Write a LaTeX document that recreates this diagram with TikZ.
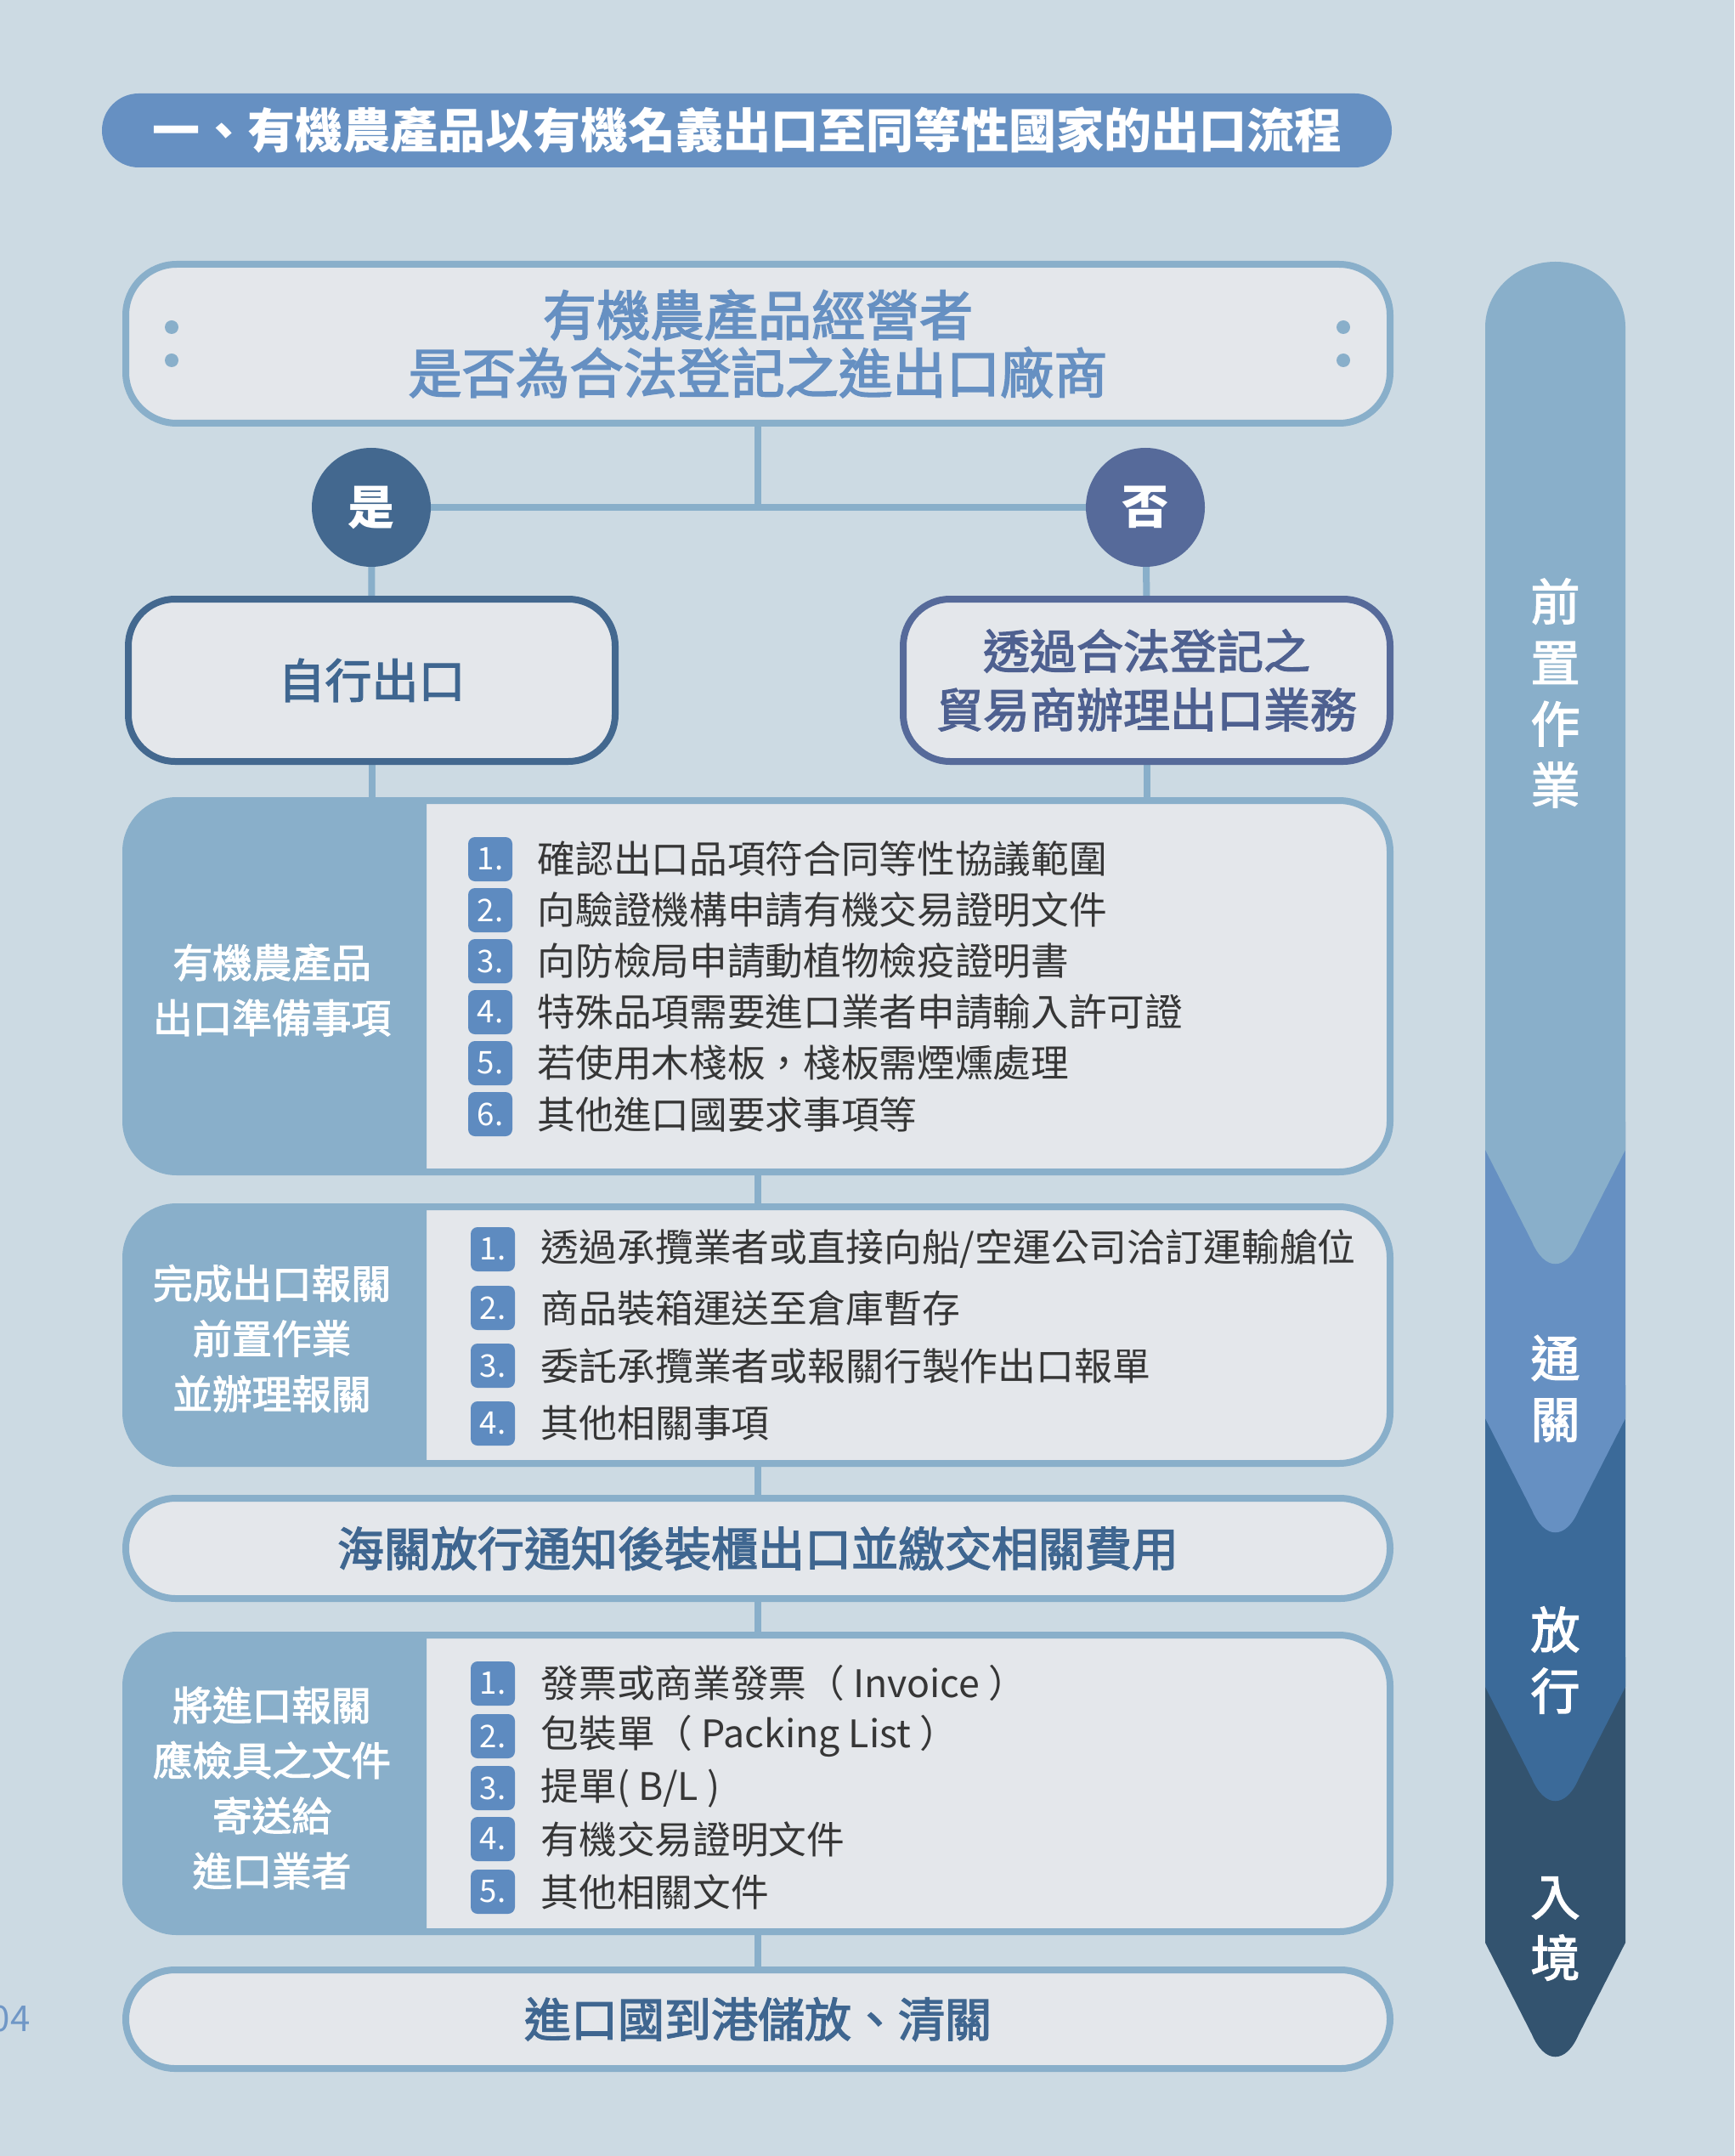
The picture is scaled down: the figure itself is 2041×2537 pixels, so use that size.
\documentclass[tikz,border=0pt]{standalone}
\usepackage{fontspec}
\setmainfont{Noto Sans CJK TC}
\newfontfamily\medfont[FakeBold=2.5]{Noto Sans CJK TC}
\pgfdeclarelayer{bg}
\pgfsetlayers{bg,main}
\definecolor{bgc}{HTML}{CCDAE3}
\definecolor{bannerc}{HTML}{6690C2}
\definecolor{boxgray}{HTML}{E4E7EB}
\definecolor{lineblue}{HTML}{89AFCA}
\definecolor{yescol}{HTML}{43688F}
\definecolor{nocol}{HTML}{566A9A}
\definecolor{headtext}{HTML}{6690C2}
\definecolor{darktext}{HTML}{3F6690}
\definecolor{notext}{HTML}{4E6090}
\definecolor{listtext}{HTML}{363636}
\definecolor{badgec}{HTML}{5E8BC0}
\definecolor{segA}{HTML}{89AFCA}
\definecolor{segB}{HTML}{6690C2}
\definecolor{segC}{HTML}{3B6A99}
\definecolor{segD}{HTML}{33536F}
\definecolor{pagec}{HTML}{7097C6}
\newcommand\fsz[2]{\fontsize{#1}{#2}\selectfont}
\newcommand\chevseg[3]{\fill[#1] (1748,#2) -- (1748,#3) -- (1803,#3+108) .. controls (1818,#3+143) and (1843,#3+143) .. (1858,#3+108) -- (1913,#3) -- (1913,#2) -- cycle;}
\begin{document}
\begin{tikzpicture}[x=0.3pt,y=-0.3pt,
  bigbox/.style={draw=lineblue, line width=2.4pt, fill=boxgray, rounded corners=18pt,
    minimum width=446.4pt, inner sep=0pt, outer sep=0pt},
  conn/.style={draw=lineblue, line width=2.4pt},
  dotmark/.style={circle, fill=lineblue, minimum size=4.8pt, inner sep=0pt},
  yesno/.style={circle, minimum size=42pt, inner sep=0pt, text=white, font=\fsz{16.5pt}{18pt}\bfseries},
  choicebox/.style={line width=2.4pt, fill=boxgray, rounded corners=16.5pt,
    minimum width=171.9pt, minimum height=57.3pt, inner sep=0pt, outer sep=0pt, align=center},
  sidelabel/.style={text=white, align=center, font=\medfont\fsz{14pt}{19.5pt}, inner sep=0pt},
  badge/.style={fill=badgec, rounded corners=2.4pt, minimum size=15.6pt, inner sep=0pt,
    text=white, font=\fsz{11pt}{12pt}},
  itemtext/.style={anchor=west, text=listtext, inner sep=0pt, font=\fsz{13.4pt}{15pt}},
  itemtextb/.style={anchor=west, text=listtext, inner sep=0pt, font=\fsz{13.45pt}{16pt}},
  coltext/.style={text=white, align=center, inner sep=0pt, font=\medfont\fsz{17.4pt}{21.6pt}}
]
\useasboundingbox (0,0) rectangle (2041,2537);
\begin{pgfonlayer}{bg}
\fill[bgc] (0,0) rectangle (2041,2537);
\end{pgfonlayer}

% title banner
\node[fill=bannerc, rounded corners=13pt, minimum width=455.4pt, minimum height=26.1pt,
  inner sep=0pt, text=white, font=\fsz{16.8pt}{18pt}\bfseries] (title) at (879,153.5)
  {一、有機農產品以有機名義出口至同等性國家的出口流程};

% top question box
\node[bigbox, minimum height=56.1pt, align=center, text=headtext, font=\medfont\fsz{19pt}{20.4pt}]
  (top) at (892,404.5) {有機農產品經營者\\是否為合法登記之進出口廠商};
\node[dotmark] (dl1) at (202,385) {};
\node[dotmark] (dl2) at (202,424) {};
\node[dotmark] (dr1) at (1581,385) {};
\node[dotmark] (dr2) at (1581,424) {};

% yes / no
\node[yesno, fill=yescol] (yes) at (437,597) {是};
\node[yesno, fill=nocol] (no) at (1348,597) {否};

\node[choicebox, draw=yescol, text=darktext, font=\medfont\fsz{16.5pt}{18pt}]
  (selfbox) at (437.5,800.5) {自行出口};
\node[choicebox, draw=nocol, text=notext, font=\medfont\fsz{16.5pt}{20.7pt}]
  (tradebox) at (1349.5,800.5) {透過合法登記之\\貿易商辦理出口業務};

% main boxes
\node[bigbox, minimum height=131.1pt] (box3) at (892,1160.5) {};
\node[bigbox, minimum height=90.6pt] (box4) at (892,1571) {};
\node[bigbox, minimum height=35.4pt, rounded corners=17.7pt, text=darktext, font=\medfont\fsz{16.5pt}{18pt}]
  (box5) at (892,1822) {海關放行通知後裝櫃出口並繳交相關費用};
\node[bigbox, minimum height=104.7pt] (box6) at (892,2098.5) {};
\node[bigbox, minimum height=34.8pt, rounded corners=17.4pt, text=darktext, font=\medfont\fsz{16.5pt}{18pt}]
  (box7) at (892,2376) {進口國到港儲放、清關};

% left label panels
\begin{scope}
\clip (100,0) rectangle (502,2537);
\fill[lineblue, rounded corners=18pt] (box3.north west) rectangle (box3.south east);
\fill[lineblue, rounded corners=18pt] (box4.north west) rectangle (box4.south east);
\fill[lineblue, rounded corners=18pt] (box6.north west) rectangle (box6.south east);
\end{scope}
\node[sidelabel] (lab3) at (320,1165) {有機農產品\\出口準備事項};
\node[sidelabel] (lab4) at (320,1575) {完成出口報關\\前置作業\\並辦理報關};
\node[sidelabel] (lab6) at (320,2104) {將進口報關\\應檢具之文件\\寄送給\\進口業者};

% box3 list
\node[badge] (b31) at (577,1011) {1.};
\node[badge] (b32) at (577,1071) {2.};
\node[badge] (b33) at (577,1131) {3.};
\node[badge] (b34) at (577,1191) {4.};
\node[badge] (b35) at (577,1251) {5.};
\node[badge] (b36) at (577,1311) {6.};
\node[itemtext] (t31) at (632,1011) {確認出口品項符合同等性協議範圍};
\node[itemtext] (t32) at (632,1071) {向驗證機構申請有機交易證明文件};
\node[itemtext] (t33) at (632,1131) {向防檢局申請動植物檢疫證明書};
\node[itemtext] (t34) at (632,1191) {特殊品項需要進口業者申請輸入許可證};
\node[itemtext] (t35) at (632,1251) {若使用木棧板，棧板需煙燻處理};
\node[itemtext] (t36) at (632,1311) {其他進口國要求事項等};

% box4 list
\node[badge] (b41) at (580,1470) {1.};
\node[badge] (b42) at (580,1539) {2.};
\node[badge] (b43) at (580,1607) {3.};
\node[badge] (b44) at (580,1675) {4.};
\node[itemtextb] (t41) at (636,1470) {透過承攬業者或直接向船/空運公司洽訂運輸艙位};
\node[itemtextb] (t42) at (636,1539) {商品裝箱運送至倉庫暫存};
\node[itemtextb] (t43) at (636,1607) {委託承攬業者或報關行製作出口報單};
\node[itemtextb] (t44) at (636,1675) {其他相關事項};

% box6 list
\node[badge] (b61) at (580,1981) {1.};
\node[badge] (b62) at (580,2043) {2.};
\node[badge] (b63) at (580,2104) {3.};
\node[badge] (b64) at (580,2164) {4.};
\node[badge] (b65) at (580,2226) {5.};
\node[itemtext] (t61) at (636,1981) {發票或商業發票（ Invoice ）};
\node[itemtext] (t62) at (636,2043) {包裝單（ Packing List ）};
\node[itemtext] (t63) at (636,2104) {提單( B/L )};
\node[itemtext] (t64) at (636,2164) {有機交易證明文件};
\node[itemtext] (t65) at (636,2226) {其他相關文件};

% connectors
\begin{pgfonlayer}{bg}
\draw[conn] (top.south) -- (top.south |- yes.center);
\draw[conn] (yes.center) -- (no.center);
\draw[conn] (yes.center) -- (selfbox.north);
\draw[conn] (no.center) -- (tradebox.north);
\draw[conn] (selfbox.south) -- (selfbox.south |- box3.north);
\draw[conn] (tradebox.south) -- (tradebox.south |- box3.north);
\draw[conn] (box3.south) -- (box4.north);
\draw[conn] (box4.south) -- (box5.north);
\draw[conn] (box5.south) -- (box6.north);
\draw[conn] (box6.south) -- (box7.north);
\end{pgfonlayer}

% right stage column
\chevseg{segD}{1950}{2286}
\chevseg{segC}{1630}{1985}
\chevseg{segB}{1320}{1669}
\fill[segA] (1748,1353) -- (1748,385) .. controls (1748,342.5) and (1784.9,308) .. (1830.5,308)
  .. controls (1876.1,308) and (1913,342.5) .. (1913,385) -- (1913,1353)
  -- (1858,1353+108) .. controls (1843,1353+143) and (1818,1353+143) .. (1803,1353+108) -- cycle;
\node[coltext] (s1) at (1830.5,815.5) {前\\置\\作\\業};
\node[coltext] (s2) at (1830.5,1634) {通\\關};
\node[coltext] (s3) at (1830.5,1953.5) {放\\行};
\node[coltext] (s4) at (1830.5,2269.5) {入\\境};

% page number
\node[anchor=east, inner sep=0pt, text=pagec, font=\fsz{12.6pt}{14pt}] (pg) at (36,2375) {04};
\end{tikzpicture}
\end{document}
